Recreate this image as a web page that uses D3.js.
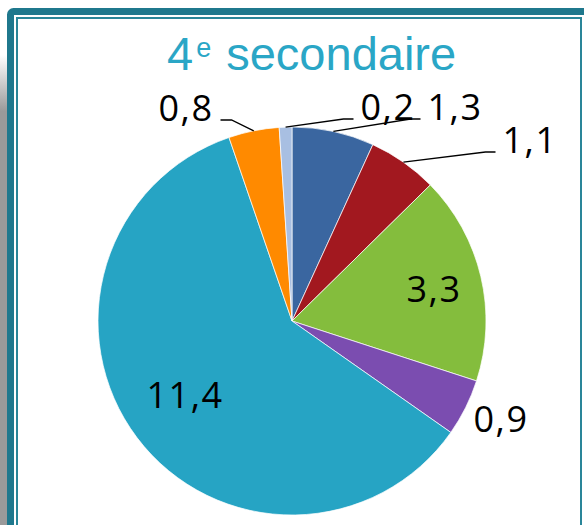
<!DOCTYPE html>
<html>
<head>
<meta charset="utf-8">
<script src="https://cdn.jsdelivr.net/npm/d3@7"></script>
<style>
  body { margin: 0; background: #fff; }
  svg { display: block; }
</style>
</head>
<body>
<script>
// data (French decimal commas)
var categories = ["A", "B", "C", "D", "E", "F", "G"];
var values = [1.3, 1.1, 3.3, 0.9, 11.4, 0.8, 0.2];
var labelText = ["1,3", "1,1", "3,3", "0,9", "11,4", "0,8", "0,2"];
var sliceColors = ["#3a66a0", "#a2181f", "#84bd3d", "#7b4db0", "#26a4c4", "#ff8a00", "#a8bfe2"];

var svgWidth = 584;
var svgHeight = 525;

var svg = d3.select("body")
    .append("svg")
    .attr("width", svgWidth)
    .attr("height", svgHeight);

// left drop shadow
var defs = svg.append("defs");
var grad = defs.append("linearGradient")
    .attr("id", "shade")
    .attr("x1", 0).attr("y1", 0).attr("x2", 0).attr("y2", 1);
grad.append("stop").attr("offset", "0%").attr("stop-color", "#fff");
grad.append("stop").attr("offset", "12%").attr("stop-color", "#9a9a9a");
grad.append("stop").attr("offset", "100%").attr("stop-color", "#9a9a9a");

svg.append("rect")
    .attr("x", 0).attr("y", 55)
    .attr("width", 7).attr("height", svgHeight - 55)
    .attr("fill", "url(#shade)");

// frame: thick outer border + thin inner line
svg.append("rect")
    .attr("x", 10.5).attr("y", 11.5)
    .attr("width", 590).attr("height", 540)
    .attr("rx", 3)
    .attr("fill", "none")
    .attr("stroke", "#1f788d")
    .attr("stroke-width", 7);
svg.append("rect")
    .attr("x", 17).attr("y", 18)
    .attr("width", 564).attr("height", 530)
    .attr("fill", "#fff")
    .attr("stroke", "#2a8699")
    .attr("stroke-width", 2);

// title
var title = svg.append("text")
    .attr("x", 167)
    .attr("y", 70)
    .attr("font-family", "'Liberation Sans', Arial, sans-serif")
    .attr("font-size", 47)
    .attr("fill", "#2aa6c6");
title.append("tspan").text("4");
title.append("tspan")
    .attr("font-size", 27)
    .attr("dx", 3)
    .attr("dy", -13)
    .text("e");
title.append("tspan")
    .attr("dx", 2)
    .attr("dy", 13)
    .text(" secondaire");

// pie
var cx = 292, cy = 321, radius = 194;

var chartGroup = svg.append("g")
    .attr("transform", `translate(${cx},${cy})`);

var pie = d3.pie().sort(null).value(d => d.value);
var arc = d3.arc().innerRadius(0).outerRadius(radius);

var pieData = pie(values.map((v, i) => ({ key: categories[i], value: v, label: labelText[i] })));

chartGroup.selectAll("path.slice")
    .data(pieData)
    .enter()
    .append("path")
    .attr("class", "slice")
    .attr("d", arc)
    .attr("fill", (d, i) => sliceColors[i])
    .attr("stroke", "#fff")
    .attr("stroke-width", 0.7);

// label placement (baseline centre, relative to pie centre) and leader side
var labelOffsets = [
    [163, -201], [238, -168], [142, -19], [209, 111],
    [-107, 87], [-106, -200], [96, -201]
];
var leaderSide = ["left", "left", null, null, null, "right", "left"];

var fontLbl = "'Open Sans', 'Noto Sans', sans-serif";

// leader lines
pieData.forEach(function (d, i) {
    if (!leaderSide[i]) return;
    var mid = (d.startAngle + d.endAngle) / 2;
    var p0 = [radius * Math.sin(mid), -radius * Math.cos(mid)];
    var half = labelText[i].length * 9.5;
    var lx = labelOffsets[i][0], ly = labelOffsets[i][1] - 1;
    var end, elbow;
    if (leaderSide[i] === "left") {
        end = [lx - half - 6, ly];
        elbow = [end[0] - 10, ly];
    } else {
        end = [lx + half + 6, ly];
        elbow = [end[0] + 11, ly];
    }
    chartGroup.append("path")
        .attr("d", d3.line()([p0, elbow, end]))
        .attr("fill", "none")
        .attr("stroke", "#000")
        .attr("stroke-width", 1.3);
});

chartGroup.selectAll("text.lbl")
    .data(pieData)
    .enter()
    .append("text")
    .attr("class", "lbl")
    .attr("x", (d, i) => labelOffsets[i][0])
    .attr("y", (d, i) => labelOffsets[i][1])
    .attr("text-anchor", "middle")
    .attr("font-family", fontLbl)
    .attr("font-size", 36)
    .attr("letter-spacing", 1.5)
    .attr("fill", "#000")
    .text(d => d.data.label);
</script>
</body>
</html>
